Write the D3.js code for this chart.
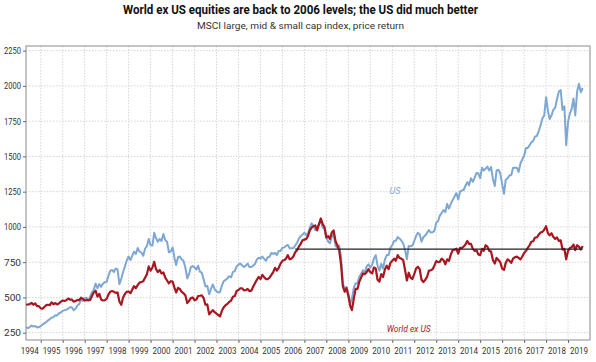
<!DOCTYPE html>
<meta charset="utf-8">
<script src="https://d3js.org/d3.v7.min.js"></script>
<style>
  body { margin: 0; background: #fff; }
  text { font-family: "Liberation Sans Narrow", "Roboto", "Liberation Sans", sans-serif; }
</style>
<div id="chart"></div>
<script>

// monthly index levels, first value = May 1994
var startMonth = new Date(1994, 4, 1);

var usValues = [
  290, 283, 290, 300, 293, 298, 287, 290,                               // 1994 May-Dec
  297, 308, 316, 325, 337, 346, 358, 360, 374, 372, 388, 393,           // 1995
  405, 410, 413, 420, 430, 430, 410, 420, 443, 452, 484, 475,           // 1996
  495, 498, 478, 505, 535, 555, 598, 565, 595, 575, 598, 608,           // 1997
  612, 655, 688, 695, 680, 705, 698, 595, 632, 680, 720, 762,           // 1998
  790, 765, 795, 825, 808, 850, 825, 818, 795, 845, 865, 915,           // 1999
  870, 868, 958, 920, 895, 915, 900, 950, 905, 895, 820, 825,           // 2000
  855, 780, 730, 785, 790, 770, 760, 712, 635, 665, 715, 722,           // 2001
  712, 698, 725, 682, 676, 628, 578, 582, 522, 560, 592, 558,           // 2002
  544, 535, 540, 584, 616, 624, 636, 650, 643, 680, 686, 720,           // 2003
  732, 740, 728, 716, 725, 740, 715, 716, 725, 737, 768, 782,           // 2004
  775, 790, 775, 760, 785, 788, 815, 808, 815, 800, 830, 830,           // 2005
  852, 855, 865, 872, 848, 848, 850, 868, 888, 917, 935, 945,           // 2006
  960, 942, 952, 993, 1025, 1008, 978, 990, 1025, 1040, 995, 985,       // 2007
  925, 895, 885, 930, 950, 865, 855, 868, 790, 600, 560, 575,           // 2008
  528, 455, 490, 568, 600, 600, 645, 668, 692, 675, 720, 735,           // 2009
  710, 732, 775, 800, 728, 690, 738, 705, 770, 800, 800, 852,           // 2010
  872, 900, 902, 928, 918, 902, 882, 838, 770, 865, 862, 868,           // 2011
  900, 935, 958, 948, 895, 928, 938, 958, 978, 960, 962, 972,           // 2012
  1030, 1042, 1080, 1098, 1120, 1105, 1162, 1130, 1165, 1190, 1215, 1240, // 2013
  1195, 1250, 1258, 1262, 1290, 1318, 1295, 1345, 1320, 1350, 1382, 1380, // 2014
  1345, 1420, 1400, 1412, 1428, 1400, 1425, 1340, 1290, 1400, 1405, 1380, // 2015
  1305, 1235, 1335, 1345, 1365, 1368, 1420, 1420, 1420, 1390, 1450, 1478, // 2016
  1505, 1560, 1560, 1578, 1600, 1610, 1640, 1645, 1680, 1720, 1770, 1790, // 2017
  1920, 1822, 1765, 1790, 1830, 1845, 1905, 1960, 1970, 1830, 1855, 1580, // 2018
  1745, 1805, 1835, 1910, 1790, 1960, 2015, 1955, 1985                  // 2019 Jan-Sep
];

var worldValues = [
  448, 450, 452, 462, 448, 458, 438, 438,                               // 1994 May-Dec
  422, 420, 432, 445, 448, 445, 465, 452, 460, 450, 458, 470,           // 1995
  478, 475, 480, 492, 485, 485, 470, 475, 482, 480, 498, 490,           // 1996
  478, 482, 480, 482, 510, 535, 548, 505, 525, 485, 478, 480,           // 1997
  490, 522, 540, 545, 540, 532, 535, 470, 448, 500, 525, 540,           // 1998
  542, 530, 555, 580, 565, 588, 605, 610, 615, 640, 665, 720,           // 1999
  690, 712, 752, 700, 680, 695, 670, 678, 640, 620, 600, 615,           // 2000
  612, 570, 535, 568, 560, 540, 530, 515, 460, 475, 495, 500,           // 2001
  480, 485, 510, 512, 515, 495, 448, 450, 380, 395, 410, 395,           // 2002
  385, 375, 365, 405, 430, 445, 455, 468, 478, 505, 510, 545,           // 2003
  552, 565, 565, 550, 552, 560, 545, 548, 575, 600, 625, 645,           // 2004
  630, 660, 645, 630, 630, 640, 660, 680, 710, 690, 710, 740,           // 2005
  760, 765, 775, 800, 770, 775, 790, 820, 835, 860, 880, 905,           // 2006
  910, 915, 935, 975, 995, 1005, 1010, 975, 1020, 1060, 1020, 1000,     // 2007
  925, 935, 915, 960, 975, 900, 870, 835, 735, 580, 540, 565,           // 2008
  510, 440, 410, 490, 560, 560, 610, 640, 670, 665, 680, 700,           // 2009
  680, 670, 712, 705, 625, 612, 665, 645, 700, 725, 700, 745,           // 2010
  760, 775, 760, 800, 780, 775, 765, 695, 620, 675, 640, 630,           // 2011
  665, 705, 718, 700, 625, 608, 625, 645, 690, 692, 700, 725,           // 2012
  758, 750, 752, 775, 765, 735, 770, 760, 805, 835, 838, 845,           // 2013
  810, 852, 850, 860, 875, 900, 880, 880, 845, 830, 835, 805,           // 2014
  800, 845, 830, 870, 860, 830, 825, 765, 740, 780, 765, 750,           // 2015
  705, 695, 745, 770, 760, 745, 775, 785, 790, 780, 770, 790,           // 2016
  815, 830, 850, 870, 895, 898, 925, 925, 945, 960, 965, 980,           // 2017
  1005, 955, 940, 955, 930, 915, 925, 900, 905, 840, 845, 770,          // 2018
  830, 850, 855, 875, 835, 870, 860, 840, 865                           // 2019 Jan-Sep
];

var yTicks = [250, 500, 750, 1000, 1250, 1500, 1750, 2000, 2250];
var yearLabels = d3.range(1994, 2020);

// 2006 level of world ex US, drawn as a flat reference
var refLevel = 843;
var refFrom = new Date(2006, 7, 1);
var refTo = new Date(2019, 8, 1);

var title = "World ex US equities are back to 2006 levels; the US did much better";
var subtitle = "MSCI large, mid & small cap index, price return";

var W = 596, H = 362;
var margin = {top: 46, right: 6, bottom: 22, left: 26};
var width = W - margin.left - margin.right,
    height = H - margin.top - margin.bottom;

var svg = d3.select("#chart").append("svg")
    .attr("width", W)
    .attr("height", H);

var g = svg.append("g")
    .attr("transform", "translate(" + margin.left + "," + margin.top + ")");

var x = d3.scaleTime()
    .domain([startMonth, new Date(2020, 0, 1)])
    .range([0, width]);

var y = d3.scaleLinear()
    .domain([198, 2283])
    .range([height, 0]);

function months(vals) {
  return vals.map(function(v, i) {
    return {date: d3.timeMonth.offset(startMonth, i), value: v};
  });
}
var us = months(usValues);
var world = months(worldValues);

// gridlines
var yearStarts = yearLabels.slice(1).map(function(yr) { return new Date(yr, 0, 1); });

g.append("g").selectAll("line")
  .data(yTicks)
  .enter().append("line")
    .attr("x1", 0).attr("x2", width)
    .attr("y1", function(d) { return y(d); })
    .attr("y2", function(d) { return y(d); })
    .attr("stroke", "#d6d6d6")
    .attr("stroke-dasharray", "1.5,1.5");

g.append("g").selectAll("line")
  .data(yearStarts)
  .enter().append("line")
    .attr("x1", function(d) { return x(d); })
    .attr("x2", function(d) { return x(d); })
    .attr("y1", 0).attr("y2", height)
    .attr("stroke", "#d6d6d6")
    .attr("stroke-dasharray", "1.5,1.5");

// frame
g.append("rect")
  .attr("width", width).attr("height", height)
  .attr("fill", "none")
  .attr("stroke", "#8a8a8a");

// y axis
var yAxis = g.append("g")
  .call(d3.axisLeft(y).tickValues(yTicks).tickFormat(d3.format("d")).tickSize(3).tickSizeOuter(0));
yAxis.select(".domain").remove();
yAxis.selectAll("line").attr("stroke", "#666");
yAxis.selectAll("text")
  .attr("fill", "#333")
  .style("font-size", "9px")
  .attr("x", -5)
  .attr("textLength", 17)
  .attr("lengthAdjust", "spacingAndGlyphs");

// x axis: ticks at year starts, labels centred in each year
var xAxis = g.append("g")
  .attr("transform", "translate(0," + height + ")")
  .call(d3.axisBottom(x).tickValues(yearStarts).tickSize(3).tickFormat(""));
xAxis.select(".domain").remove();
xAxis.selectAll("line").attr("stroke", "#666");

g.append("g").selectAll("text")
  .data(yearLabels)
  .enter().append("text")
    .attr("x", function(d) { return x(new Date(d, 6, 1)) - 9; })
    .attr("y", height + 14)
    .attr("fill", "#333")
    .style("font-size", "9.5px")
    .attr("textLength", 18)
    .attr("lengthAdjust", "spacingAndGlyphs")
    .text(function(d) { return d; });

// series
var line = d3.line()
  .x(function(d) { return x(d.date); })
  .y(function(d) { return y(d.value); });

g.append("path")
  .datum(us)
  .attr("fill", "none")
  .attr("stroke", "#7ea7d2")
  .attr("stroke-width", 2)
  .attr("stroke-linejoin", "round")
  .attr("d", line);

g.append("path")
  .datum(world)
  .attr("fill", "none")
  .attr("stroke", "#a8161f")
  .attr("stroke-width", 2.2)
  .attr("stroke-linejoin", "round")
  .attr("d", line);

// reference level
g.append("line")
  .attr("x1", x(refFrom)).attr("x2", x(refTo))
  .attr("y1", y(refLevel)).attr("y2", y(refLevel))
  .attr("stroke", "#222")
  .attr("stroke-width", 1.3);

// series labels
g.append("text")
  .attr("x", x(new Date(2011, 1, 15)))
  .attr("y", y(1230))
  .attr("text-anchor", "middle")
  .attr("fill", "#7ea7d2")
  .style("font-size", "9px")
  .style("font-style", "italic")
  .text("US");

g.append("text")
  .attr("x", x(new Date(2011, 9, 1)) - 22)
  .attr("y", y(255))
  .attr("fill", "#a8161f")
  .style("font-size", "9px")
  .style("font-style", "italic")
  .attr("textLength", 44)
  .attr("lengthAdjust", "spacingAndGlyphs")
  .text("World ex US");

// titles
svg.append("text")
  .attr("x", 123).attr("y", 14)
  .attr("fill", "#111")
  .style("font-size", "13px")
  .style("font-weight", "bold")
  .attr("textLength", 355)
  .attr("lengthAdjust", "spacingAndGlyphs")
  .text(title);

svg.append("text")
  .attr("x", 197).attr("y", 29)
  .attr("fill", "#333")
  .style("font-size", "9px")
  .attr("textLength", 207)
  .attr("lengthAdjust", "spacingAndGlyphs")
  .text(subtitle);

</script>
